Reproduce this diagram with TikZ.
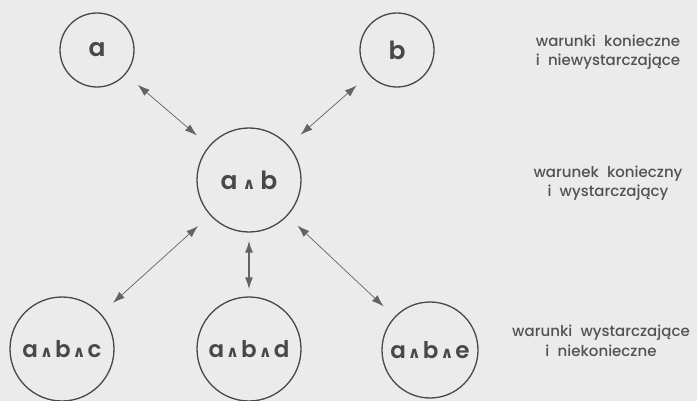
\documentclass[tikz,border=0pt]{standalone}
\usepackage{fontspec}
\setmainfont{Poppins}
\newfontfamily\symfont{DejaVu Sans}
\newfontfamily\nodefont{Poppins SemiBold}
\newfontfamily\labelfont{Poppins Medium}
\usetikzlibrary{arrows.meta}
\definecolor{paper}{RGB}{235,235,235}
\definecolor{ink}{RGB}{72,72,72}
\definecolor{txt}{RGB}{82,82,82}
% bold wedge used between the letters
\newcommand\conj{{\symfont\bfseries\fontsize{16}{16}\selectfont ∧}}
% wider gaps between words in the side notes
\newcommand\widewords{\spaceskip=0.55em plus 0.1em\relax}
\tikzset{
  setnode/.style={circle, draw=ink, line width=1.3pt, inner sep=0pt,
    text=ink, font=\nodefont\fontsize{25}{25}\selectfont},
  small/.style={setnode, minimum size=74pt},
  big/.style={setnode, minimum size=104pt},
  combo/.style={big, font=\nodefont\fontsize{23}{23}\selectfont},
  link/.style={draw=ink!85, line width=0.7pt,
    {Latex[length=12pt,width=8pt]}-{Latex[length=12pt,width=8pt]},
    shorten <=16pt, shorten >=16pt},
  note/.style={text=txt, align=center,
    font=\labelfont\fontsize{15}{19.5}\selectfont\widewords}
}
\begin{document}
\begin{tikzpicture}[x=1pt,y=-1pt]
  \fill[paper] (0,0) rectangle (697,401);
  \useasboundingbox (0,0) rectangle (697,401);

  \node[small] (a) at (97,50) {a};
  \node[small] (b) at (397,50) {b};
  \node[big] (ab) at (249,180) {a\kern5pt\conj\kern5pt b};
  \node[combo] (abc) at (62,349) {a\kern2pt\conj\kern2pt b\kern2pt\conj\kern2pt c};
  \node[combo] (abd) at (249,349) {a\kern2pt\conj\kern2pt b\kern2pt\conj\kern2pt d};
  \node[combo, minimum size=96pt] (abe) at (430,350) {a\kern2pt\conj\kern2pt b\kern2pt\conj\kern2pt e};

  \draw[link] (a) -- (ab);
  \draw[link] (b) -- (ab);
  \draw[link] (ab) -- (abc);
  \draw[link, line width=1.5pt, shorten <=8pt, shorten >=7pt] (ab) -- (abd);
  \draw[link, shorten >=15pt, shorten <=14pt] (ab) -- (abe);

  \node[note] (n1) at (608,52) {warunki konieczne\\i niewystarczające};
  \node[note] (n2) at (608,183) {warunek konieczny\\i wystarczający};
  \node[note] (n3) at (601,341) {warunki wystarczające\\i niekonieczne};
\end{tikzpicture}
\end{document}
